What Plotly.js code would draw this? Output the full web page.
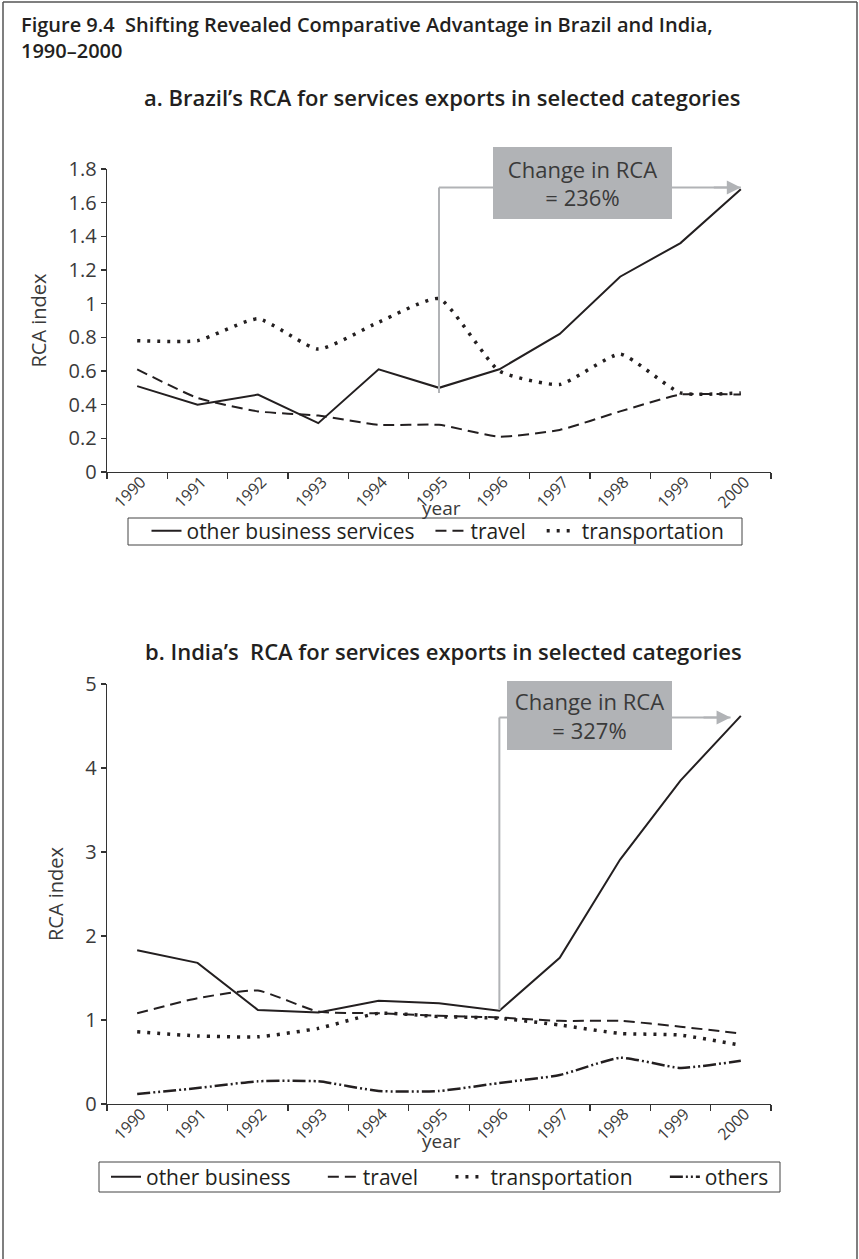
<!DOCTYPE html>
<html>
<head>
<meta charset="utf-8">
<script src="https://cdn.plot.ly/plotly-3.0.1.min.js"></script>
<style>
  html, body { margin: 0; padding: 0; background: #fff; }
  #chart { width: 859px; height: 1259px; }
</style>
</head>
<body>
<div id="chart"></div>
<script>
// ---------- data ----------
const years = ['1990','1991','1992','1993','1994','1995','1996','1997','1998','1999','2000'];

const brazilOtherBusiness  = [0.51, 0.40, 0.46, 0.29, 0.61, 0.50, 0.61, 0.82, 1.16, 1.36, 1.68];
const brazilTravel         = [0.61, 0.44, 0.36, 0.335, 0.28, 0.28, 0.21, 0.25, 0.36, 0.46, 0.46];
const brazilTransportation = [0.78, 0.78, 0.91, 0.73, 0.89, 1.03, 0.60, 0.52, 0.70, 0.47, 0.47];

const indiaOtherBusiness   = [1.83, 1.68, 1.12, 1.09, 1.23, 1.20, 1.11, 1.74, 2.91, 3.85, 4.62];
const indiaTravel          = [1.08, 1.26, 1.35, 1.10, 1.08, 1.05, 1.03, 0.99, 0.99, 0.92, 0.84];
const indiaTransportation  = [0.86, 0.81, 0.80, 0.90, 1.08, 1.04, 1.02, 0.94, 0.84, 0.82, 0.70];
const indiaOthers          = [0.12, 0.19, 0.27, 0.27, 0.155, 0.155, 0.25, 0.345, 0.55, 0.43, 0.515];

const brazilLegend = ['other business services', 'travel', 'transportation'];
const indiaLegend  = ['other business', 'travel', 'transportation', 'others'];

const figureTitle = 'Figure 9.4\u00a0 Shifting Revealed Comparative Advantage in Brazil and India,<br>1990\u20132000';
const titleA = 'a. Brazil\u2019s RCA for services exports in selected categories';
const titleB = 'b. India\u2019s\u00a0 RCA for services exports in selected categories';
const xTitle = 'year';
const yTitle = 'RCA index';

// change-in-RCA callouts
const brazilChange = {text: 'Change in RCA<br>= 236%', from: '1995', to: '2000', yLow: 0.47, yHigh: 1.69};
const indiaChange  = {text: 'Change in RCA<br>= 327%', from: '1996', to: '2000', yLow: 1.12, yHigh: 4.60};

// ---------- styling ----------
const INK = '#231f20';
const TXT = '#3a3a3a';
const GREY = '#b1b3b6';
const FONT = '"Open Sans", Lato, "DejaVu Sans", sans-serif';
const W = 859, H = 1259;
const px = v => v / W;
const py = v => 1 - v / H;
const pad = (s, n) => s + '\u00a0'.repeat(n);

const styles = {
  solid:   {color: INK, width: 2, dash: 'solid'},
  dashed:  {color: INK, width: 2, dash: '11px,6px', shape: 'spline', smoothing: 0.5},
  dotted:  {color: INK, width: 3.5, dash: '3px,7px', shape: 'spline', smoothing: 0.5},
  dashdot: {color: INK, width: 2.5, dash: '13px,3px,2px,3px,2px,3px', shape: 'spline', smoothing: 0.5}
};

function tr(name, y, style, xa, ya, legend) {
  return {
    type: 'scatter', mode: 'lines', name: name, x: years, y: y,
    xaxis: xa, yaxis: ya, legend: legend,
    line: Object.assign({}, style), hoverinfo: 'skip'
  };
}

const data = [
  tr(pad(brazilLegend[0], 2), brazilOtherBusiness,  styles.solid,  'x',  'y',  'legend'),
  tr(pad(brazilLegend[1], 2), brazilTravel,         styles.dashed, 'x',  'y',  'legend'),
  tr(brazilLegend[2],         brazilTransportation, styles.dotted, 'x',  'y',  'legend'),
  tr(pad(indiaLegend[0], 5),  indiaOtherBusiness,   styles.solid,  'x2', 'y2', 'legend2'),
  tr(pad(indiaLegend[1], 5),  indiaTravel,          styles.dashed, 'x2', 'y2', 'legend2'),
  tr(pad(indiaLegend[2], 5),  indiaTransportation,  styles.dotted, 'x2', 'y2', 'legend2'),
  tr(indiaLegend[3],          indiaOthers,          styles.dashdot,'x2', 'y2', 'legend2')
];

const xDomain = [px(107), px(771)];

function xAxis(anchor) {
  return {
    domain: xDomain, anchor: anchor, type: 'category',
    range: [-0.5, years.length - 0.5],
    tickson: 'boundaries', ticks: 'outside', ticklen: 6, tickwidth: 1.2, tickcolor: '#333',
    tickangle: -45, ticklabelshift: 4, ticklabelstandoff: -7,
    tickfont: {family: FONT, size: 16, color: TXT},
    showline: true, linecolor: '#333', linewidth: 1.3, showgrid: false, zeroline: false,
    automargin: false, fixedrange: true
  };
}
function yAxis(anchor, domain, range, dtick) {
  return {
    domain: domain, anchor: anchor, range: range, dtick: dtick, tick0: 0,
    ticks: 'outside', ticklen: 5, tickwidth: 1.2, tickcolor: '#333',
    tickfont: {family: FONT, size: 20, color: TXT},
    showline: true, linecolor: '#333', linewidth: 1.3, showgrid: false, zeroline: false,
    automargin: false, fixedrange: true,
    title: {text: yTitle, font: {family: FONT, size: 20, color: TXT}, standoff: 16}
  };
}

function callout(c, xa, ya, box) {
  const i0 = years.indexOf(c.from), i1 = years.indexOf(c.to);
  const shapes = [
    {type: 'line', xref: xa, yref: ya, x0: i0, x1: i0, y0: c.yLow, y1: c.yHigh,
     line: {color: GREY, width: 2}, layer: 'above'},
    {type: 'line', xref: xa, yref: ya, x0: i0, x1: i1 - box.tipBack, y0: c.yHigh, y1: c.yHigh,
     line: {color: GREY, width: 2}, layer: 'above'}
  ];
  const anns = [
    {xref: xa, yref: ya, x: i1 - box.tipBack, y: c.yHigh, text: ' ', showarrow: true,
     axref: 'pixel', ayref: 'pixel', ax: -30, ay: 0,
     arrowhead: 2, arrowsize: 1.4, arrowwidth: 2, arrowcolor: GREY, standoff: 0, startstandoff: 0},
    {xref: 'paper', yref: 'paper', x: px(box.cx), y: py(box.cy), xanchor: 'center', yanchor: 'middle',
     text: c.text, showarrow: false, width: box.w, height: box.h,
     bgcolor: GREY, borderpad: 0, borderwidth: 0,
     font: {family: FONT, size: 22, color: TXT}}
  ];
  return {shapes, anns};
}

const cA = callout(brazilChange, 'x', 'y', {cx: 582, cy: 183, w: 179, h: 72, tipBack: 0});
const cB = callout(indiaChange, 'x2', 'y2', {cx: 589, cy: 715, w: 165, h: 69, tipBack: 0.17});

function legendCfg(cx, cy) {
  return {
    orientation: 'h', x: px(cx), xanchor: 'center', y: py(cy), yanchor: 'middle',
    borderwidth: 0, bgcolor: 'rgba(0,0,0,0)',
    font: {family: FONT, size: 21, color: INK}, itemwidth: 30, traceorder: 'normal',
    itemclick: false, itemdoubleclick: false
  };
}

const frame = {color: '#555', width: 1.5};
const legendFrame = {color: '#444', width: 1};

const layout = {
  width: W, height: H,
  margin: {l: 0, r: 0, t: 0, b: 0},
  paper_bgcolor: '#ffffff', plot_bgcolor: 'rgba(0,0,0,0)',
  font: {family: FONT, color: INK},
  showlegend: true,
  xaxis: xAxis('y'),
  yaxis: yAxis('x', [py(472), py(169)], [0, 1.8], 0.2),
  xaxis2: xAxis('y2'),
  yaxis2: yAxis('x2', [py(1104), py(684)], [0, 5], 1),
  legend: legendCfg(438, 531),
  legend2: legendCfg(440, 1177),
  shapes: [
    {type: 'line', xref: 'paper', yref: 'paper', x0: px(3), x1: px(3), y0: py(2), y1: py(1262), line: frame},
    {type: 'line', xref: 'paper', yref: 'paper', x0: px(3), x1: px(857), y0: py(2), y1: py(2), line: frame},
    {type: 'line', xref: 'paper', yref: 'paper', x0: px(857), x1: px(857), y0: py(2), y1: py(1262), line: frame},
    {type: 'rect', xref: 'paper', yref: 'paper', x0: px(128), x1: px(742), y0: py(518), y1: py(545), line: legendFrame},
    {type: 'rect', xref: 'paper', yref: 'paper', x0: px(99), x1: px(780), y0: py(1162), y1: py(1192), line: legendFrame}
  ].concat(cA.shapes, cB.shapes),
  annotations: [
    {xref: 'paper', yref: 'paper', x: px(19), y: py(9), xanchor: 'left', yanchor: 'top', align: 'left',
     showarrow: false, text: figureTitle, font: {family: FONT, size: 20, color: INK, weight: 600}},
    {xref: 'paper', yref: 'paper', x: px(442), y: py(97), xanchor: 'center', yanchor: 'middle', showarrow: false,
     text: titleA, font: {family: FONT, size: 22, color: INK, weight: 600}},
    {xref: 'paper', yref: 'paper', x: px(444), y: py(651), xanchor: 'center', yanchor: 'middle', showarrow: false,
     text: titleB, font: {family: FONT, size: 22, color: INK, weight: 600}},
    {xref: 'paper', yref: 'paper', x: px(441), y: py(508), xanchor: 'center', yanchor: 'middle', showarrow: false,
     text: xTitle, font: {family: FONT, size: 19, color: TXT}},
    {xref: 'paper', yref: 'paper', x: px(441), y: py(1141), xanchor: 'center', yanchor: 'middle', showarrow: false,
     text: xTitle, font: {family: FONT, size: 19, color: TXT}}
  ].concat(cA.anns, cB.anns)
};

Plotly.newPlot('chart', data, layout, {displayModeBar: false, staticPlot: true});
</script>
</body>
</html>
